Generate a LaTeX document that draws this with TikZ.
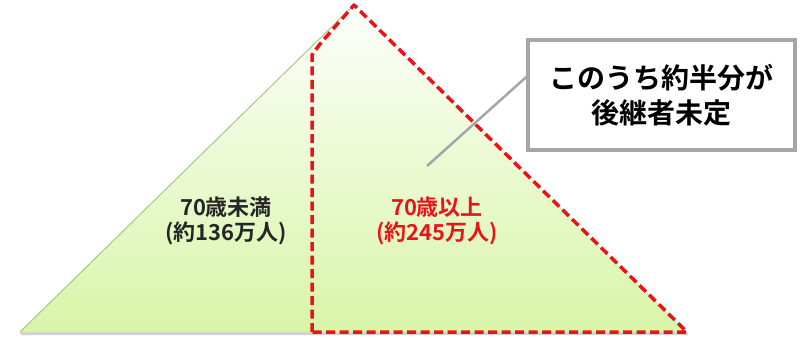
\documentclass[tikz,border=0pt]{standalone}
\usepackage{fontspec}
\newfontfamily\cjk{Noto Sans CJK JP}[BoldFont={* Bold}]
\usetikzlibrary{calc}
\definecolor{tgreen}{HTML}{D8F5A8}
\definecolor{tedge}{HTML}{A8C88A}
\definecolor{dred}{HTML}{E8141A}
\definecolor{bgray}{HTML}{A6A6A6}
\begin{document}
\begin{tikzpicture}[x=1pt,y=-1pt,
  lbl/.style={font=\cjk\bfseries\fontsize{22}{25}\selectfont, align=center, inner sep=0pt},
  reddash/.style={draw=dred, line width=3.5pt, dash pattern=on 9pt off 4.5pt, line join=round},
  callbox/.style={draw=bgray, line width=3.5pt, fill=white, inner sep=0pt, minimum width=267pt, minimum height=110pt, align=center, font=\cjk\bfseries\fontsize{28}{35}\selectfont}]
\useasboundingbox (0,0) rectangle (802,342);
\coordinate (A) at (354,5);
\coordinate (BL) at (20,332);
\coordinate (BR) at (687,332);
% shadow
\fill[gray!35] ($(BL)+(1,3)$) -- ($(BR)+(1,3)$) -- ($(BR)+(0,0)$) -- (BL) -- cycle;
\shade[top color=white!95!tgreen, bottom color=tgreen] (A) -- (BR) -- (BL) -- cycle;
\draw[tedge, line width=1pt] (BL) -- (A);
% red dashed region
\draw[reddash] (312,332) -- (312,55) -- (320,44) -- (A) -- (BR) -- cycle;
% callout
\node[callbox] (box) at (661.5,95) {このうち約半分が\\後継者未定};
\coordinate (tip) at (427,166);
\draw[bgray, line width=2.5pt] (tip) -- ($(box.west)+(0,-18)$);
% labels
\node[lbl, text=black!85] (l1) at (226,221) {70歳未満\\(約136万人)};
\node[lbl, text=dred] (l2) at (437,221) {70歳以上\\(約245万人)};
\end{tikzpicture}
\end{document}
